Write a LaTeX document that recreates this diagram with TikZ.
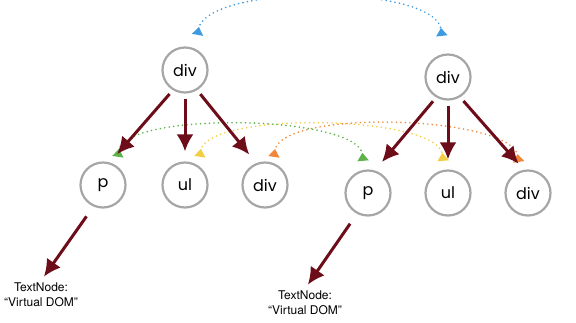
\documentclass[tikz,border=0pt]{standalone}
\usepackage{fontspec}
\setmainfont{TeX Gyre Heros}
\newfontfamily\elemfont{Poppins}
\usetikzlibrary{arrows.meta}
\definecolor{treered}{HTML}{6E0D1A}
\definecolor{blueL}{HTML}{3E9BE0}
\definecolor{greenL}{HTML}{5DB24A}
\definecolor{yellowL}{HTML}{F2CE45}
\definecolor{orangeL}{HTML}{F0873A}

\begin{document}
\begin{tikzpicture}[x=1pt,y=-1pt,
		elem/.style={circle, draw=gray!70, line width=2.2pt, minimum size=45pt, inner sep=0pt, font=\elemfont\fontsize{16}{16}\selectfont},
		child/.style={draw=treered, line width=3pt, -{Latex[length=17pt,width=17pt]}, shorten <=5pt},
		textlbl/.style={align=center, inner sep=2pt, font=\fontsize{12}{15}\selectfont},
		link/.style={dash pattern=on 0pt off 4.5pt, line width=1.8pt, line cap=round, {Triangle[reversed,length=8pt,width=11pt]}-{Triangle[reversed,length=8pt,width=11pt]}}]
	\useasboundingbox (0,0) rectangle (576,323);
	
	% Left tree
	\node[elem] (L0) at (185,70) {div};
	\node[elem] (Lp) at (103,185) {p};
	\node[elem] (Lul) at (185,185) {ul};
	\node[elem] (Ldiv) at (265,185) {div};
	\node[textlbl] (Ltxt) at (41,295) {TextNode:\\“Virtual DOM”};
	
	% Right tree
	\node[elem] (R0) at (448,77) {div};
	\node[elem] (Rp) at (368,193) {p};
	\node[elem] (Rul) at (448,193) {ul};
	\node[elem] (Rdiv) at (528,193) {div};
	\node[textlbl] (Rtxt) at (305,303) {TextNode:\\“Virtual DOM”};
	
	% Dotted links between matching elements
	\draw[link, blueL, shorten <=14pt, shorten >=18pt] (L0.65) .. controls +(12,-65) and +(-8,-70) .. (R0.100);
	\draw[link, greenL, shorten <=9pt, shorten >=9pt] (Lp.55) .. controls +(8,-55) and +(-5,-55) .. (Rp.100);
	\draw[link, yellowL, shorten <=9pt, shorten >=9pt] (Lul.55) .. controls +(8,-55) and +(-5,-55) .. (Rul.100);
	\draw[link, orangeL, shorten <=6pt, shorten >=9pt] (Ldiv.70) .. controls +(8,-55) and +(-8,-55) .. (Rdiv.110);
	
	% Parent -> child arrows
	\draw[child, shorten >=11pt] (L0.239) -- (Lp.73);
	\draw[child, shorten >=10pt] (L0.270) -- (Lul.90);
	\draw[child, shorten >=11pt] (L0.301) -- (Ldiv.112);
	\draw[child, shorten >=11pt] (R0.240) -- (Rp.73);
	\draw[child, shorten >=10pt] (R0.270) -- (Rul.90);
	\draw[child, shorten >=8pt] (R0.301) -- (Rdiv.100);
	\draw[child, shorten <=12pt, shorten >=5pt] (Lp.246) -- (Ltxt.north);
	\draw[child, shorten <=12pt, shorten >=5pt] (Rp.242) -- (Rtxt.north);
\end{tikzpicture}
\end{document}
